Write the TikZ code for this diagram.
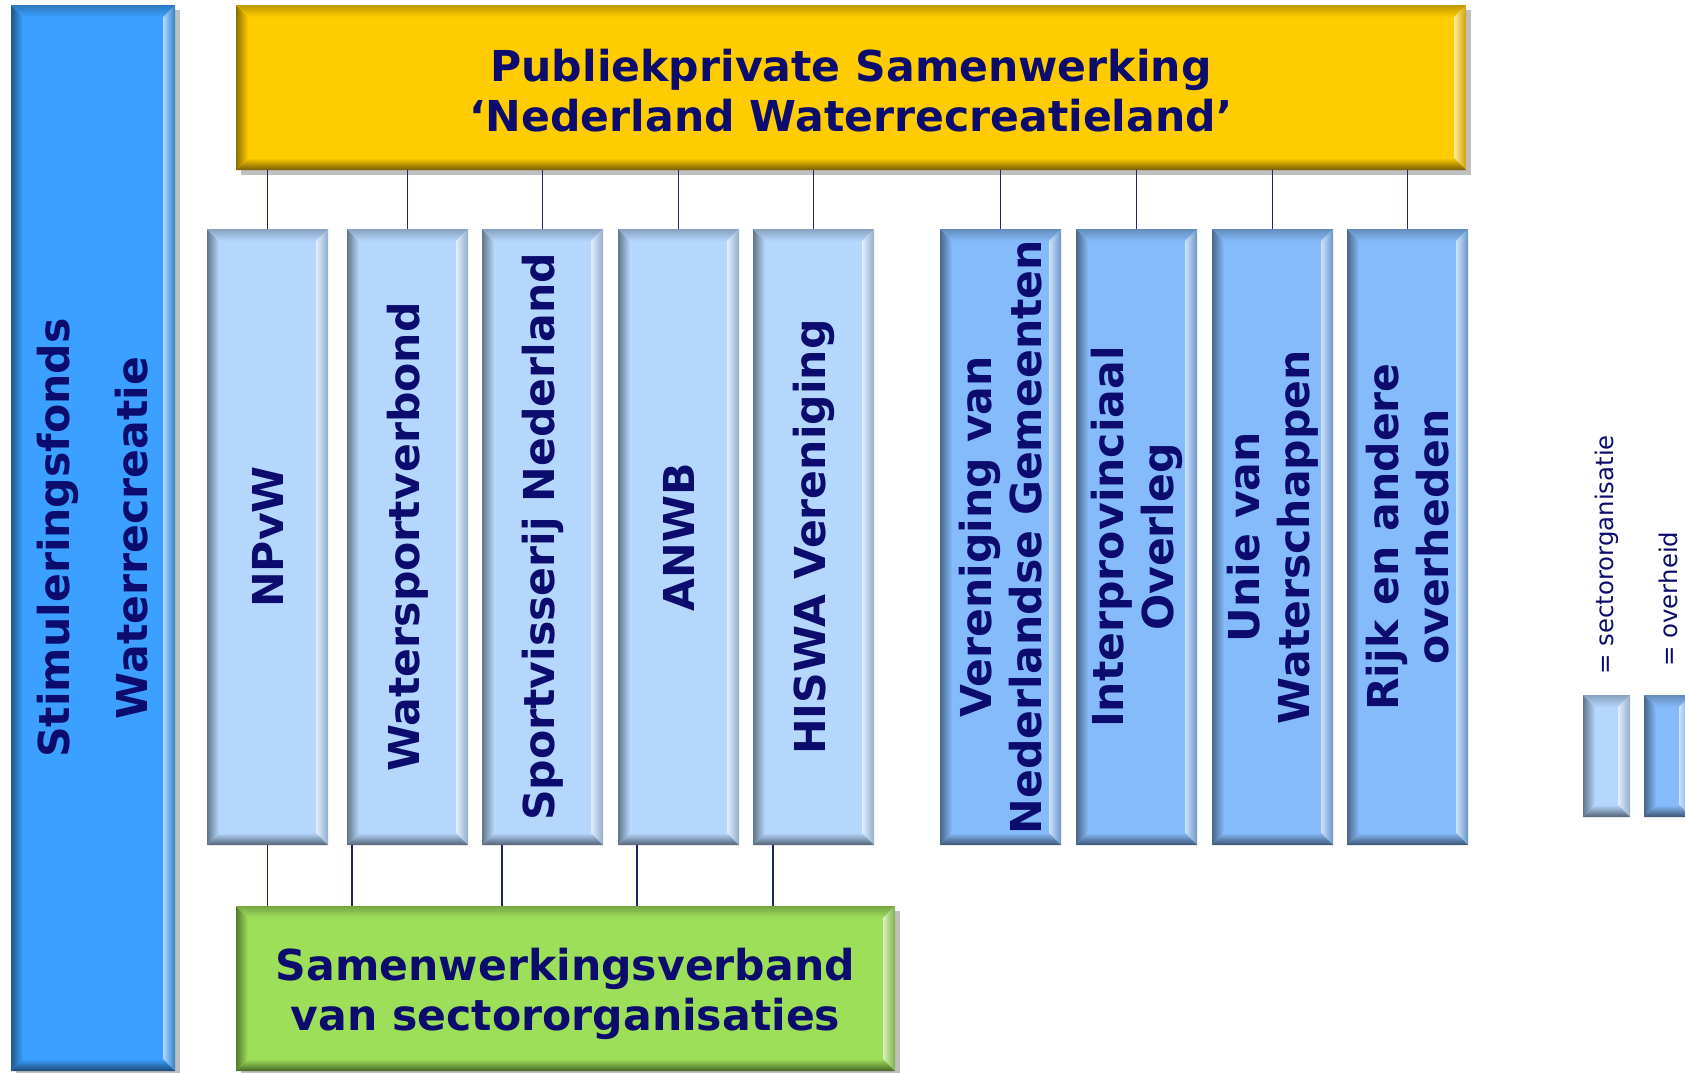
\documentclass[tikz,border=0pt]{standalone}
\usepackage{fontspec}
\setmainfont{DejaVu Sans}
\usetikzlibrary{positioning,shadows}

\definecolor{navytext}{RGB}{12,12,110}
\definecolor{fondsblue}{RGB}{59,160,255}
\definecolor{ppsyellow}{RGB}{255,204,0}
\definecolor{sectorblue}{RGB}{181,215,253}
\definecolor{govblue}{RGB}{133,187,250}
\definecolor{verbgreen}{RGB}{158,223,90}
\definecolor{lineblue}{RGB}{30,40,100}

\def\bevw{6pt}
% bevelled edges of a box: #1 node, #2 base colour
\newcommand{\bevel}[2]{%
  \shade[left color=#2!55!black, right color=#2] (#1.north west) -- ([shift={(\bevw,-\bevw)}]#1.north west) -- ([shift={(\bevw,\bevw)}]#1.south west) -- (#1.south west) -- cycle;
  \shade[top color=#2!75!black, bottom color=#2] (#1.north west) -- (#1.north east) -- ([shift={(-\bevw,-\bevw)}]#1.north east) -- ([shift={(\bevw,-\bevw)}]#1.north west) -- cycle;
  \shade[left color=#2!40!white, right color=#2!80!black] (#1.north east) -- ([shift={(-\bevw,-\bevw)}]#1.north east) -- ([shift={(-\bevw,\bevw)}]#1.south east) -- (#1.south east) -- cycle;
  \shade[top color=#2, bottom color=#2!45!black] (#1.south west) -- ([shift={(\bevw,\bevw)}]#1.south west) -- ([shift={(-\bevw,\bevw)}]#1.south east) -- (#1.south east) -- cycle;
}

\begin{document}
\begin{tikzpicture}[x=0.5pt,y=-0.5pt,
    box/.style = {inner sep=0pt, outer sep=0pt},
    shbox/.style = {box, drop shadow={shadow xshift=2.5pt, shadow yshift=-2.5pt, fill=black, opacity=0.25}},
    sector/.style = {box, fill=sectorblue, minimum width=60.5pt, minimum height=308pt},
    gov/.style = {sector, fill=govblue},
    label/.style = {text=navytext, font=\fontsize{21.3}{25}\selectfont\bfseries, align=center},
    vlabel/.style = {label, rotate=90},
    legtext/.style = {text=navytext, font=\fontsize{12.2}{14}\selectfont, rotate=90, anchor=west, inner sep=0pt},
    conn/.style = {draw=lineblue, line width=0.8pt}]
  \useasboundingbox (0,0) rectangle (1685,1072);

  % big boxes
  \node[shbox, fill=fondsblue, minimum width=82pt, minimum height=533pt] (fonds) at (93,538) {};
  \node[shbox, fill=ppsyellow, minimum width=615pt, minimum height=82.5pt] (pps) at (851,87.5) {};
  \node[shbox, fill=verbgreen, minimum width=329.5pt, minimum height=82.5pt] (verb) at (565.5,988.5) {};

  % sector organisations
  \node[sector] (npvw) at (267.5,537) {};
  \node[sector] (ws) [right=9.5pt of npvw] {};
  \node[sector] (sv) [right=7pt of ws] {};
  \node[sector] (anwb) [right=7.5pt of sv] {};
  \node[sector] (hiswa) [right=7pt of anwb] {};

  % government
  \node[gov] (vng) [right=33pt of hiswa] {};
  \node[gov] (ipo) [right=7.5pt of vng] {};
  \node[gov] (uvw) [right=7.5pt of ipo] {};
  \node[gov] (rijk) [right=7pt of uvw] {};

  % legend
  \node[box, fill=sectorblue, minimum width=23.5pt, minimum height=61pt] (legsec) at (1606.5,756) {};
  \node[box, fill=govblue, minimum width=23.5pt, minimum height=61pt] (leggov) at (1667.5,756) {};

  \bevel{fonds}{fondsblue}
  \bevel{pps}{ppsyellow}
  \bevel{verb}{verbgreen}
  \foreach \n in {npvw,ws,sv,anwb,hiswa,legsec} {\bevel{\n}{sectorblue}}
  \foreach \n in {vng,ipo,uvw,rijk,leggov} {\bevel{\n}{govblue}}

  % connectors
  \foreach \n in {npvw,ws,sv,anwb,hiswa,vng,ipo,uvw,rijk}
    \draw[conn] (\n.north) -- (\n.north |- pps.south);
  \foreach \n/\d in {npvw/30.25pt,ws/2.5pt,sv/10pt,anwb/9.5pt,hiswa/10pt}
    \draw[conn] ([xshift=\d]\n.south west) -- ([xshift=\d]\n.south west |- verb.north);

  % texts
  \node[label, yshift=-1.5pt] (pps-t) at (pps) {Publiekprivate Samenwerking\\‘Nederland Waterrecreatieland’};
  \node[label, yshift=-2.5pt] (verb-t) at (verb) {Samenwerkingsverband\\van sectororganisaties};
  \node[vlabel, font=\fontsize{21.3}{39}\selectfont\bfseries] (fonds-t) at (fonds) {Stimuleringsfonds\\Waterrecreatie};
  \node[vlabel] (npvw-t) at (npvw) {NPvW};
  \node[vlabel] (ws-t) at (ws) {Watersportverbond};
  \node[vlabel] (sv-t) at (sv) {Sportvisserij Nederland};
  \node[vlabel] (anwb-t) at (anwb) {ANWB};
  \node[vlabel] (hiswa-t) at (hiswa) {HISWA Vereniging};
  \node[vlabel] (vng-t) at (vng) {Vereniging van\\Nederlandse Gemeenten};
  \node[vlabel] (ipo-t) at (ipo) {Interprovinciaal\\Overleg};
  \node[vlabel] (uvw-t) at (uvw) {Unie van\\Waterschappen};
  \node[vlabel] (rijk-t) at (rijk) {Rijk en andere\\overheden};
  \node[legtext] (legsec-t) at (1607,675) {= sectororganisatie};
  \node[legtext] (leggov-t) at (1668,667) {= overheid};
\end{tikzpicture}
\end{document}
